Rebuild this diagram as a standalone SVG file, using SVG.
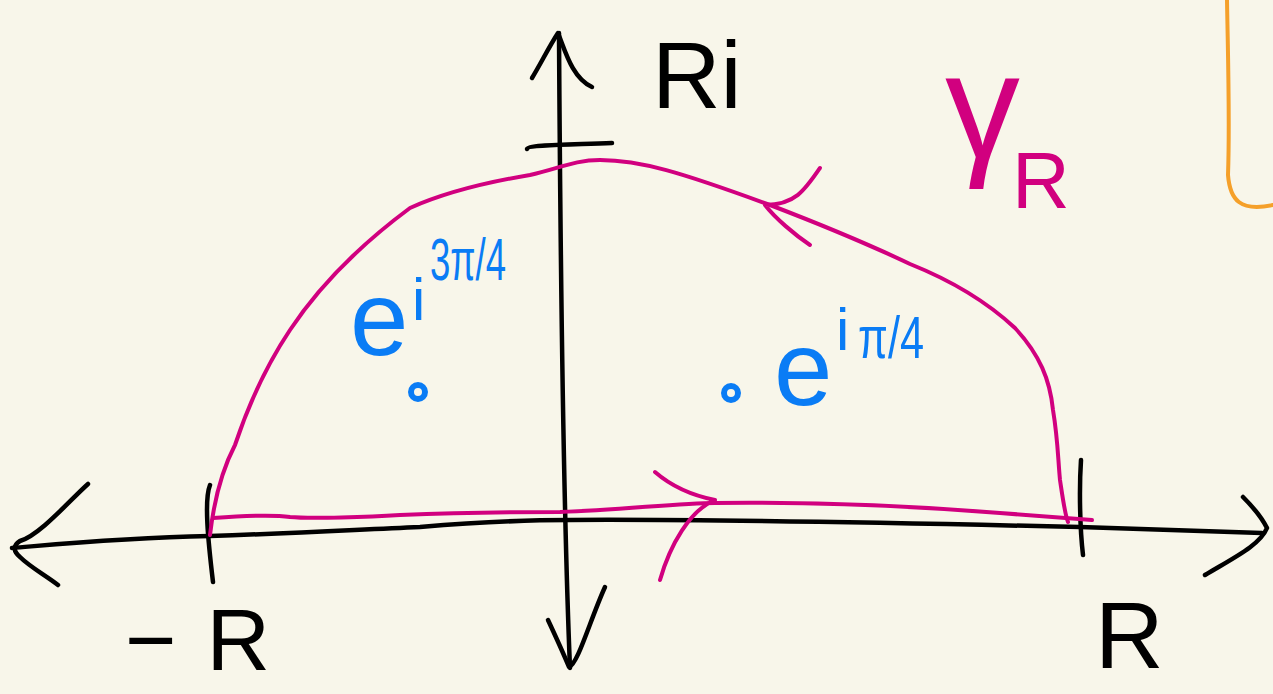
<svg xmlns="http://www.w3.org/2000/svg" width="1273" height="694" viewBox="0 0 1273 694">
<style>
.k{fill:none;stroke:#000;stroke-width:4.5;stroke-linecap:round;stroke-linejoin:round}
.m{fill:none;stroke:#d1007f;stroke-width:4;stroke-linecap:round;stroke-linejoin:round}
.b{fill:none;stroke:#0a7cf5;stroke-width:6}
.o{fill:none;stroke:#f5a02a;stroke-width:4;stroke-linecap:round}
.tk{fill:#000;font-family:"Liberation Sans",Arial,sans-serif}
.tm{fill:#d1007f;font-family:"Liberation Sans",Arial,sans-serif}
.tb{fill:#0a7cf5;font-family:"Liberation Sans",Arial,sans-serif}
</style>
<rect width="1273" height="694" fill="#f8f6ea"/>
<g id="axes">
<path class="k" d="M12,548 C60,544 120,538 210,536 C300,533 350,530 420,527 C480,522 520,520 570,520 C700,519 900,523 1080,527 L1262,533"/>
<path class="k" d="M88,484 C70,500 40,535 20,541 C12,546 14,552 20,557 C30,567 45,575 58,585"/>
<path class="k" d="M1243,497 C1252,506 1262,518 1267,528 C1260,545 1235,557 1205,575"/>
<path class="k" d="M559,33 C560,200 563,500 570,668"/>
<path class="k" d="M532,78 C540,65 550,45 558,33 C565,50 572,78 592,87"/>
<path class="k" d="M548,620 C555,635 562,650 569,667 C578,664 590,620 605,587"/>
<path class="k" d="M527,149 C528,145 560,145 612,143"/>
<path class="k" d="M210,485 C204,500 208,540 213,582"/>
<path class="k" d="M1081,460 C1079,490 1080,530 1083,555"/>
</g>
<g id="contour">
<path class="m" d="M210,535 C214,500 222,470 235,445 C250,400 270,360 290,330 C320,285 360,245 410,208 C450,190 500,180 530,175 C560,168 575,160 600,160 C640,160 680,172 770,205 C830,228 870,245 910,264 C950,280 985,300 1015,328 C1040,355 1050,380 1053,410 C1058,440 1058,460 1060,480 C1063,500 1065,515 1068,522"/>
<path class="m" d="M213,518 C240,516 270,514 290,517 C310,519 370,517 400,515 C450,513 480,512 560,512 C620,510 680,503 715,503 C800,502 900,505 1000,513 L1092,520"/>
<path class="m" d="M820,168 C805,190 795,205 765,205 C775,218 795,235 810,245"/>
<path class="m" d="M655,472 C670,485 690,495 715,500 C690,510 670,545 660,580"/>
</g>
<g id="labels">
<text class="tk" x="652" y="108" font-size="95">Ri</text>
<text class="tk" x="125" y="670" font-size="88" letter-spacing="30">−R</text>
<text class="tk" x="1095" y="668" font-size="95">R</text>
<text class="tm" x="945" y="158" font-size="150">γ<tspan x="1012" y="208" font-size="80">R</tspan></text>
</g>
<g id="pole-upper-left">
<circle class="b" cx="418" cy="392" r="7"/>
<text class="tb" x="350" y="355" font-size="105">e<tspan x="412" y="320" font-size="60">i</tspan><tspan x="430" y="280" font-size="60" textLength="76" lengthAdjust="spacingAndGlyphs">3π/4</tspan></text>
</g>
<g id="pole-upper-right">
<circle class="b" cx="731" cy="393" r="7"/>
<text class="tb" x="774" y="405" font-size="105">e<tspan x="836" y="350" font-size="60">i</tspan><tspan x="858" y="358" font-size="60" textLength="66" lengthAdjust="spacingAndGlyphs">π/4</tspan></text>
</g>
<path class="o" d="M1227,0 C1228,60 1230,120 1228,175 C1230,200 1240,212 1273,205"/>
</svg>
